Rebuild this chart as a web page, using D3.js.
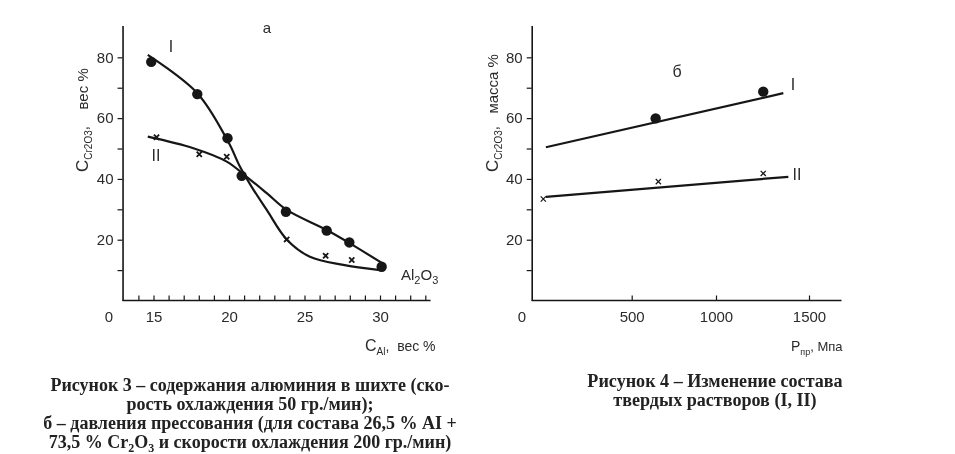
<!DOCTYPE html>
<html>
<head>
<meta charset="utf-8">
<script src="https://cdnjs.cloudflare.com/ajax/libs/d3/7.8.5/d3.min.js"></script>
<style>
    body { margin: 0; background: #fff; }
    svg { filter: grayscale(1); }
    svg text { font-family: "Liberation Sans", Arial, sans-serif; fill: #2b2b2b; }
    svg text.caption { font-family: "Liberation Serif", "Times New Roman", serif; font-weight: bold; fill: #222; }
</style>
</head>
<body>
<div class="container"></div>
<script>
// рис. 3а - содержание алюминия, вес %
const alMajorTicks = [15, 20, 25, 30],
    alMinorTicks = [14, 15, 16, 17, 18, 19, 20, 21, 22, 23, 24, 25, 26, 27, 28, 29, 30, 31, 32, 33],
    crTicks = [10, 20, 30, 40, 50, 60, 70, 80],
    crTickLabels = [20, 40, 60, 80];

const alCircles = [[14.85, 78.5], [17.9, 67.9], [19.9, 53.4], [20.84, 41.0], [23.77, 29.2], [26.47, 23.0], [27.97, 19.1], [30.11, 11.1]],
    alCrosses = [[15.2, 53.7], [18.03, 48.1], [19.85, 47.3], [23.82, 20.1], [26.4, 14.7], [28.13, 13.3]];

// кривые
const alCurveA = [[14.62, 80.8], [17.9, 68.2], [19.95, 52.2], [20.73, 44.0], [21.5, 37.4], [22.5, 29.8], [23.82, 20.1], [25.36, 14.4], [27.57, 11.7], [30.0, 10.0]],
    alCurveB = [[14.62, 53.9], [17.64, 50.1], [19.85, 45.7], [21.17, 40.7], [22.5, 35.3], [23.82, 29.8], [26.47, 23.2], [28.01, 18.8], [30.33, 11.7]];

// рис. 3б - давление прессования, МПа
const pTicks = [500, 1000, 1500],
    pCircles = [[642, 59.9], [1254, 68.7]],
    pCrosses = [[58, 33.4], [658, 39.1], [1254, 41.8]],
    pLineI = [[71, 50.4], [1362, 68.2]],
    pLineII = [[71, 34.1], [1389, 40.7]];

const captionLeft = [
        [['Рисунок 3 – содержания алюминия в шихте (ско-']],
        [['рость охлаждения 50 гр./мин);']],
        [['б – давления прессования (для состава 26,5 % AI +']],
        [['73,5 % Cr'], ['2', 'sub'], ['O'], ['3', 'sub'], [' и скорости охлаждения 200 гр./мин)']]
    ],
    captionRight = [
        [['Рисунок 4 – Изменение состава']],
        [['твердых растворов (I, II)']]
    ];

const width = 955, height = 454;

const svg = d3.select('.container')
    .append('svg')
    .attr('width', width)
    .attr('height', height);

const yScale = d3.scaleLinear().domain([0, 90.5]).range([300.5, 25.4]);

const xLeft = d3.scaleLinear().domain([15, 30]).range([153.5, 380]);
const xRight = d3.scaleLinear().domain([0, 500, 1000, 1500]).range([531.7, 631.7, 716, 809]);

const ink = '#161616';

// subscript text helper
const richText = (sel, parts, big, small) => {
    parts.forEach(([t, kind, size]) => {
        const ts = sel.append('tspan').text(t);
        if (kind === 'sub') {
            ts.attr('font-size', small).attr('dy', 4);
            ts.attr('class', 'sub');
        } else {
            ts.attr('font-size', size || big);
        }
    });
    // restore baseline after each subscript
    sel.selectAll('tspan').each(function (d, i, nodes) {
        const prev = nodes[i - 1];
        if (prev && prev.getAttribute('class') === 'sub' && this.getAttribute('class') !== 'sub') {
            d3.select(this).attr('dy', -4);
        }
    });
    return sel;
};

const drawYAxis = (x0) => {
    const axis = d3.axisLeft(yScale)
        .tickValues(crTicks)
        .tickSize(5)
        .tickSizeOuter(0)
        .tickPadding(4)
        .tickFormat(d => crTickLabels.includes(d) ? d : '');

    const g = svg.append('g')
        .attr('transform', `translate(${x0},0)`)
        .call(axis);
    g.select('.domain').attr('stroke', ink).attr('stroke-width', 1.6);
    g.selectAll('.tick line').attr('stroke', ink).attr('stroke-width', 1.2);
    g.selectAll('.tick text').attr('font-size', 15).style('fill', '#2b2b2b');
};

// ---------- левый график ----------
const leftX0 = xLeft(12.95);
drawYAxis(leftX0);

const gxl = svg.append('g')
    .attr('transform', `translate(0,${yScale(0)})`)
    .call(d3.axisBottom(xLeft).tickValues(alMinorTicks).tickSize(-5).tickPadding(11)
        .tickFormat(d => alMajorTicks.includes(d) ? d : ''));
gxl.select('.domain').remove();
gxl.append('line')
    .attr('x1', leftX0).attr('x2', xLeft(33.35))
    .attr('stroke', ink).attr('stroke-width', 1.6);
gxl.selectAll('.tick line').attr('stroke', ink).attr('stroke-width', 1.2);
gxl.selectAll('.tick text').attr('font-size', 15).style('fill', '#2b2b2b');

svg.append('text').attr('x', 109).attr('y', 322).attr('text-anchor', 'middle')
    .attr('font-size', 15).text('0');

const curve = d3.line()
    .x(d => xLeft(d[0]))
    .y(d => yScale(d[1]))
    .curve(d3.curveCatmullRom.alpha(0.5));

[alCurveA, alCurveB].forEach(c => {
    svg.append('path')
        .attr('d', curve(c))
        .attr('fill', 'none')
        .attr('stroke', ink)
        .attr('stroke-width', 2.2);
});

svg.append('g').selectAll('circle')
    .data(alCircles)
    .join('circle')
    .attr('cx', d => xLeft(d[0]))
    .attr('cy', d => yScale(d[1]))
    .attr('r', 5.2)
    .attr('fill', ink);

const crossPath = s => `M${-s},${-s}L${s},${s}M${-s},${s}L${s},${-s}`;

svg.append('g').selectAll('path')
    .data(alCrosses)
    .join('path')
    .attr('transform', d => `translate(${xLeft(d[0])},${yScale(d[1])})`)
    .attr('d', crossPath(2.6))
    .attr('stroke', ink)
    .attr('stroke-width', 1.8);

svg.append('text').attr('x', 171).attr('y', 52).attr('text-anchor', 'middle').attr('font-size', 16).text('I');
svg.append('text').attr('x', 156).attr('y', 161).attr('text-anchor', 'middle').attr('font-size', 16).text('II');
svg.append('text').attr('x', 267).attr('y', 33).attr('text-anchor', 'middle').attr('font-size', 15).text('а');

richText(svg.append('text').attr('x', 401).attr('y', 280),
    [['Al'], ['2', 'sub'], ['O'], ['3', 'sub']], 15, 11);

richText(svg.append('text').attr('x', 365).attr('y', 351),
    [['C', null, 16], ['Al', 'sub'], [',\u00a0\u00a0вес %']], 14, 10);

richText(svg.append('text').attr('transform', 'translate(88,172) rotate(-90)'),
    [['C', null, 17], ['Cr2O3', 'sub'], [',\u00a0\u00a0\u00a0\u00a0вес %']], 15, 10);

// ---------- правый график ----------
const rightX0 = xRight(0);
drawYAxis(rightX0);

const gxr = svg.append('g')
    .attr('transform', `translate(0,${yScale(0)})`)
    .call(d3.axisBottom(xRight).tickValues(pTicks).tickSize(-5).tickPadding(11).tickFormat(d3.format('d')));
gxr.select('.domain').remove();
gxr.append('line')
    .attr('x1', rightX0).attr('x2', xRight(1675))
    .attr('stroke', ink).attr('stroke-width', 1.6);
gxr.selectAll('.tick line').attr('stroke', ink).attr('stroke-width', 1.2);
gxr.selectAll('.tick text').attr('font-size', 15).style('fill', '#2b2b2b');

svg.append('text').attr('x', 522).attr('y', 322).attr('text-anchor', 'middle')
    .attr('font-size', 15).text('0');

const straight = d3.line()
    .x(d => xRight(d[0]))
    .y(d => yScale(d[1]));

[pLineI, pLineII].forEach(l => {
    svg.append('path')
        .attr('d', straight(l))
        .attr('fill', 'none')
        .attr('stroke', ink)
        .attr('stroke-width', 2.2);
});

svg.append('g').selectAll('circle')
    .data(pCircles)
    .join('circle')
    .attr('cx', d => xRight(d[0]))
    .attr('cy', d => yScale(d[1]))
    .attr('r', 5.2)
    .attr('fill', ink);

svg.append('g').selectAll('path')
    .data(pCrosses)
    .join('path')
    .attr('transform', d => `translate(${xRight(d[0])},${yScale(d[1])})`)
    .attr('d', crossPath(2.6))
    .attr('stroke', ink)
    .attr('stroke-width', 1.2);

svg.append('text').attr('x', 793).attr('y', 90).attr('text-anchor', 'middle').attr('font-size', 16).text('I');
svg.append('text').attr('x', 797).attr('y', 180).attr('text-anchor', 'middle').attr('font-size', 16).text('II');
svg.append('text').attr('x', 677).attr('y', 77).attr('text-anchor', 'middle').attr('font-size', 16).text('б');

richText(svg.append('text').attr('x', 791).attr('y', 351),
    [['P', null, 14], ['пр', 'sub'], [', Мпа']], 13, 9);

richText(svg.append('text').attr('transform', 'translate(498,172) rotate(-90)'),
    [['C', null, 17], ['Cr2O3', 'sub'], [',\u00a0\u00a0\u00a0масса %']], 15, 10);

// ---------- подписи ----------
const drawCaption = (lines, cx, y0, size) => {
    lines.forEach((parts, i) => {
        const t = svg.append('text')
            .attr('class', 'caption')
            .attr('x', cx)
            .attr('y', y0 + i * 19)
            .attr('text-anchor', 'middle')
            .attr('font-size', size);
        richText(t, parts, size, 12);
    });
};

drawCaption(captionLeft, 250, 391, 18);
drawCaption(captionRight, 715, 387, 18.1);
</script>
</body>
</html>
